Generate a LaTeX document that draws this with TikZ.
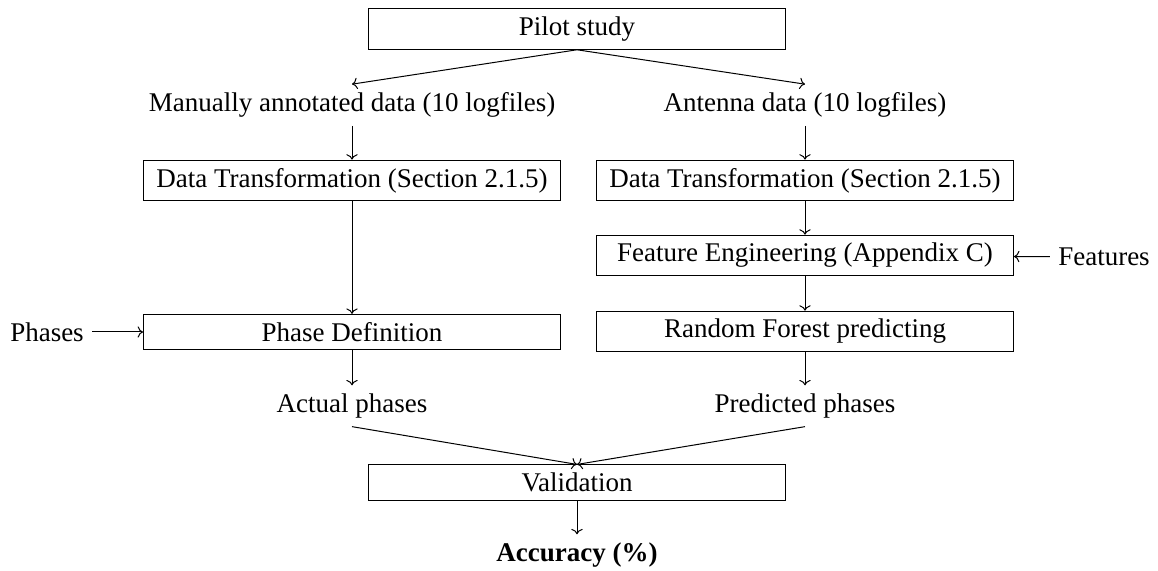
\documentclass[tikz,border=0pt]{standalone}
\usepackage{fontspec}
\setmainfont{Liberation Serif}
\usetikzlibrary{arrows.meta}
\begin{document}
\begin{tikzpicture}[x=0.5pt,y=-0.5pt,
  every node/.style={font=\fontsize{13.5}{15}\selectfont, inner sep=4pt},
  box/.style={draw, line width=0.5pt, minimum width=208.5pt, align=center},
  label/.style={align=center},
  conn/.style={->, line width=0.5pt}]
  \useasboundingbox (0,0) rectangle (1158,571);

  % top of the study
  \node[box] (pilot) at (577,29) {Pilot study};

  % two data sources
  \node[label] (man) at (352,105) {Manually annotated data (10 logfiles)};
  \node[label] (ant) at (805,105) {Antenna data (10 logfiles)};

  % left branch
  \node[box] (dtl) at (352,180.5) {Data Transformation (Section 2.1.5)};
  \node[box] (pd)  at (352,332)   {Phase Definition};
  \node[label] (phases) at (47,332) {Phases};
  \node[label] (act) at (352,406) {Actual phases};

  % right branch
  \node[box] (dtr) at (805,180.5) {Data Transformation (Section 2.1.5)};
  \node[box] (fe)  at (805,255.5) {Feature Engineering (Appendix C)};
  \node[label] (feat) at (1104,257) {Features};
  \node[box] (rf)  at (805,331.5) {Random Forest predicting};
  \node[label] (pred) at (805,406) {Predicted phases};

  % merge
  \node[box] (val) at (577,482.5) {Validation};
  \node[label] (acc) at (577,555) {\textbf{Accuracy (\%)}};

  \draw[conn] (pilot.south) -- (man.north);
  \draw[conn] (pilot.south) -- (ant.north);
  \draw[conn] (man) -- (dtl);
  \draw[conn] (ant) -- (dtr);
  \draw[conn] (dtl) -- (pd);
  \draw[conn] (phases) -- (pd);
  \draw[conn] (pd) -- (act);
  \draw[conn] (dtr) -- (fe);
  \draw[conn] (feat) -- (fe);
  \draw[conn] (fe) -- (rf);
  \draw[conn] (rf) -- (pred);
  \draw[conn] (act.south) -- (val.north);
  \draw[conn] (pred.south) -- (val.north);
  \draw[conn] (val) -- (acc);
\end{tikzpicture}
\end{document}
